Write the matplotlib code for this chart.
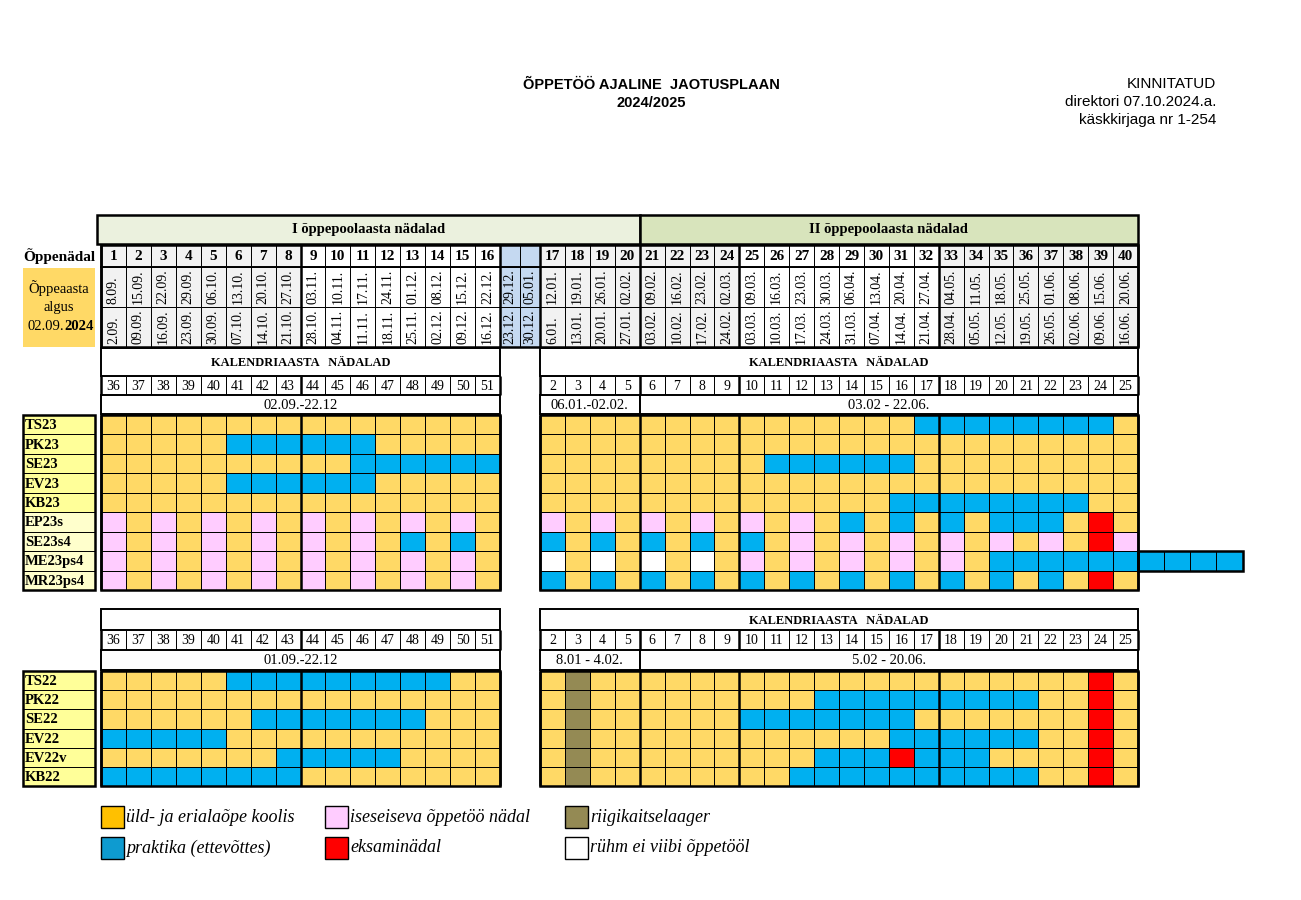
import numpy as np
import matplotlib
matplotlib.use('Agg')
import matplotlib.pyplot as plt
from matplotlib.patches import Rectangle
from matplotlib.colors import ListedColormap

SERIF = ['Liberation Serif', 'DejaVu Serif']
SANS = ['Liberation Sans', 'DejaVu Sans']
NARROW = ['Liberation Sans Narrow', 'Liberation Sans', 'DejaVu Sans']

# ---- data -----------------------------------------------------------
title_lines = ['ÕPPETÖÖ AJALINE  JAOTUSPLAAN', '2024/2025']
approval_lines = ['KINNITATUD', 'direktori 07.10.2024.a.', 'käskkirjaga nr 1-254']
semester_titles = ['I õppepoolaasta nädalad', 'II õppepoolaasta nädalad']

# 42 header columns: 16 study weeks, 2 holiday weeks, 24 study weeks
study_weeks = ['1', '2', '3', '4', '5', '6', '7', '8', '9', '10', '11', '12', '13', '14',
               '15', '16', '', '', '17', '18', '19', '20', '21', '22', '23', '24', '25',
               '26', '27', '28', '29', '30', '31', '32', '33', '34', '35', '36', '37',
               '38', '39', '40']
week_end = ['8.09.', '15.09.', '22.09.', '29.09.', '06.10.', '13.10.', '20.10.', '27.10.',
            '03.11.', '10.11.', '17.11.', '24.11.', '01.12.', '08.12.', '15.12.', '22.12.',
            '29.12.', '05.01.', '12.01.', '19.01.', '26.01.', '02.02.', '09.02.', '16.02.',
            '23.02.', '02.03.', '09.03.', '16.03.', '23.03.', '30.03.', '06.04.', '13.04.',
            '20.04.', '27.04.', '04.05.', '11.05.', '18.05.', '25.05.', '01.06.', '08.06.',
            '15.06.', '20.06.']
week_start = ['2.09.', '09.09.', '16.09.', '23.09.', '30.09.', '07.10.', '14.10.', '21.10.',
              '28.10.', '04.11.', '11.11.', '18.11.', '25.11.', '02.12.', '09.12.', '16.12.',
              '23.12.', '30.12.', '6.01.', '13.01.', '20.01.', '27.01.', '03.02.', '10.02.',
              '17.02.', '24.02.', '03.03.', '10.03.', '17.03.', '24.03.', '31.03.', '07.04.',
              '14.04.', '21.04.', '28.04.', '05.05.', '12.05.', '19.05.', '26.05.', '02.06.',
              '09.06.', '16.06.']
calendar_weeks = [36, 37, 38, 39, 40, 41, 42, 43, 44, 45, 46, 47, 48, 49, 50, 51,
                  2, 3, 4, 5,
                  6, 7, 8, 9, 10, 11, 12, 13, 14, 15, 16, 17, 18, 19, 20, 21, 22, 23, 24, 25]
ranges_2023 = ['02.09.-22.12', '06.01.-02.02.', '03.02 - 22.06.']
ranges_2022 = ['01.09.-22.12', '8.01 - 4.02.', '5.02 - 20.06.']

# o = üld/eriala koolis, b = praktika, p = iseseisev, g = riigikaitselaager,
# r = eksaminädal, w = ei viibi õppetööl   (weeks 1-16 | 17-20 | 21-40)
groups_2023 = ['TS23', 'PK23', 'SE23', 'EV23', 'KB23', 'EP23s', 'SE23s4', 'ME23ps4', 'MR23ps4']
plan_2023 = [
    'oooooooo oooooooo | oooo | oooo ooooooob bbbbbbbo',
    'ooooobbb bbbooooo | oooo | oooo oooooooo oooooooo',
    'oooooooo oobbbbbb | oooo | oooo obbbbbbo oooooooo',
    'ooooobbb bbbooooo | oooo | oooo oooooooo oooooooo',
    'oooooooo oooooooo | oooo | oooo oooooobb bbbbbboo',
    'popopopo popopopo | popo | popo popobobo bobbboro',
    'popopopo popobobo | bobo | bobo bopopopo popoporp',
    'popopopo popopopo | wowo | wowo popopopo pobbbbbb',
    'popopopo popopopo | bobo | bobo bobobobo boboboro',
]
extra_2023 = {'ME23ps4': 'bbbb'}

groups_2022 = ['TS22', 'PK22', 'SE22', 'EV22', 'EV22v', 'KB22']
plan_2022 = [
    'ooooobbb bbbbbboo | ogoo | oooo oooooooo ooooooro',
    'oooooooo oooooooo | ogoo | oooo ooobbbbb bbbbooro',
    'oooooobb bbbbbooo | ogoo | oooo bbbbbbbo ooooooro',
    'bbbbbooo oooooooo | ogoo | oooo oooooobb bbbbooro',
    'ooooooob bbbboooo | ogoo | oooo ooobbbrb bbooooro',
    'bbbbbbbb oooooooo | ogoo | oooo oobbbbbb bbbbooro',
]

legend_codes = ['o', 'p', 'g', 'b', 'r', 'w']
legend_labels = ['üld- ja erialaõpe koolis', 'iseseiseva õppetöö nädal', 'riigikaitselaager',
                 'praktika (ettevõttes)', 'eksaminädal', 'rühm ei viibi õppetööl']

# ---- styles ---------------------------------------------------------
codes = 'obpgrw'
cell_colors = {'o': '#FFD966', 'b': '#00B0F0', 'p': '#FFCCFF', 'g': '#948A54',
               'r': '#FF0000', 'w': '#FFFFFF'}
legend_colors = {'o': '#FFC000', 'b': '#0E9BD0', 'p': '#FFCCFF', 'g': '#948A54',
                 'r': '#FF0000', 'w': '#FFFFFF'}
cmap = ListedColormap([cell_colors[c] for c in codes])
THIN = 0.7
THICK = 1.8

fig = plt.figure(figsize=(13.01, 9.0), dpi=100)
ax = fig.add_axes([0, 0, 1, 1])
ax.set_xlim(0, 1301)
ax.set_ylim(900, 0)
ax.axis('off')

xe = np.concatenate([np.linspace(101, 500, 17), [520], np.linspace(540, 1138, 25)])
xc = (xe[:-1] + xe[1:]) / 2
col_idx = list(range(16)) + list(range(18, 42))
thick_cols = [0, 8, 16, 18, 22, 26, 34, 42]
blocks = [(xe[0], xe[16]), (xe[18], xe[42])]
range_blocks = [(xe[0], xe[16]), (xe[18], xe[22]), (xe[22], xe[42])]


def box(x0, x1, y0, y1, fc='none', lw=THIN, zorder=2):
    ax.add_patch(Rectangle((x0, y0), x1 - x0, y1 - y0, facecolor=fc,
                           edgecolor='black', linewidth=lw, zorder=zorder))


def thick_lines(y0, y1):
    for i in thick_cols:
        ax.plot([xe[i], xe[i]], [y0, y1], color='black', lw=THICK, zorder=5,
                solid_capstyle='butt')


def week_rows(y_kal, y_week, y_rng, y_end, ranges, kal_left):
    # calendar-week header block
    for k, (x0, x1) in enumerate(blocks):
        box(x0, x1, y_kal, y_week, fc='white', lw=1.4)
        if k == 1 or kal_left:
            ax.text((x0 + x1) / 2, (y_kal + y_week) / 2 + 1, 'KALENDRIAASTA   NÄDALAD',
                    ha='center', va='center', fontsize=9, fontweight='bold', family=SERIF)
    for k, wk in enumerate(calendar_weeks):
        i = col_idx[k]
        box(xe[i], xe[i + 1], y_week, y_rng, fc='white')
        ax.text(xc[i], (y_week + y_rng) / 2 + 1, str(wk), ha='center', va='center',
                fontsize=10, family=SERIF)
    thick_lines(y_week, y_rng)
    for (x0, x1), txt in zip(range_blocks, ranges):
        box(x0, x1, y_rng, y_end, fc='white', lw=1.4)
        ax.text((x0 + x1) / 2, (y_rng + y_end) / 2 + 1, txt, ha='center', va='center',
                fontsize=10.5, family=SERIF)


def plan_grid(groups, plan, y0, y1, label_fills, extra=None):
    rows = [row.replace(' ', '').replace('|', '') for row in plan]
    ye = np.linspace(y0, y1, len(rows) + 1)
    C = np.array([[codes.index(ch) for ch in row] for row in rows], dtype=float)
    # autumn block (weeks 1-16) and spring block (weeks 17-40), holidays left empty
    ax.pcolormesh(xe[0:17], ye, C[:, :16], cmap=cmap, vmin=-0.5, vmax=5.5,
                  edgecolors='black', linewidth=THIN, zorder=3)
    ax.pcolormesh(xe[18:43], ye, C[:, 16:], cmap=cmap, vmin=-0.5, vmax=5.5,
                  edgecolors='black', linewidth=THIN, zorder=3)
    thick_lines(y0, y1)
    for x0, x1 in blocks:
        box(x0, x1, y0, y1, lw=THICK, zorder=6)
    # row labels
    for r, name in enumerate(groups):
        box(23, 95, ye[r], ye[r + 1], fc=label_fills[r], lw=THIN)
        ax.text(25, (ye[r] + ye[r + 1]) / 2 + 1, name, ha='left', va='center',
                fontsize=10.5, fontweight='bold', family=SERIF)
    box(23, 95, y0, y1, lw=THICK, zorder=6)
    # cells that run past week 40
    if extra:
        w = xe[42] - xe[41]
        for name, cells in extra.items():
            r = groups.index(name)
            ex = xe[42] + w * np.arange(len(cells) + 1) * 1.05
            E = np.array([[codes.index(ch) for ch in cells]], dtype=float)
            ax.pcolormesh(ex, ye[r:r + 2], E, cmap=cmap, vmin=-0.5, vmax=5.5,
                          edgecolors='black', linewidth=THIN, zorder=3)
            box(ex[0], ex[-1], ye[r], ye[r + 1], lw=THICK, zorder=6)


# ---- title ------------------------------------------------------------
ax.text(651, 85, title_lines[0], ha='center', va='center', fontsize=10.5,
        fontweight='bold', family=SANS)
ax.text(651, 103, title_lines[1], ha='center', va='center', fontsize=10.5,
        fontweight='bold', family=SANS)
for k, line in enumerate(approval_lines):
    ax.text(1216, 84 + 18 * k, line, ha='right', va='center', fontsize=11, family=NARROW)

# ---- semester band ------------------------------------------------------
band = [(97, xe[22], '#EBF1DE'), (xe[22], xe[42], '#D8E4BC')]
for (x0, x1, fc), txt in zip(band, semester_titles):
    box(x0, x1, 215, 244, fc=fc, lw=THICK)
    ax.text((x0 + x1) / 2, 230, txt, ha='center', va='center', fontsize=10.5,
            fontweight='bold', family=SERIF)

# ---- study week / date header --------------------------------------------
shade = (['#F2F2F2'] * 8 + ['white'] * 8 + ['#C5D9F1'] * 2 + ['#F2F2F2'] * 8
         + ['white'] * 8 + ['#F2F2F2'] * 8)
hy = [245, 267, 307, 347]
for i in range(42):
    box(xe[i], xe[i + 1], hy[0], hy[1], fc=shade[i])
    box(xe[i], xe[i + 1], hy[1], hy[2], fc=shade[i])
    box(xe[i], xe[i + 1], hy[2], hy[3], fc=shade[i])
    ax.text(xc[i], (hy[0] + hy[1]) / 2 + 1, study_weeks[i], ha='center', va='center',
            fontsize=11, fontweight='bold', family=SERIF, zorder=4)
    ax.text(xc[i], hy[2] - 3, week_end[i], rotation=90, ha='center', va='bottom',
            fontsize=10, family=SERIF, zorder=4)
    ax.text(xc[i], hy[3] - 3, week_start[i], rotation=90, ha='center', va='bottom',
            fontsize=10, family=SERIF, zorder=4)
thick_lines(hy[0], hy[3])
box(xe[0], xe[42], hy[0], hy[3], lw=THICK, zorder=6)
ax.plot([xe[0], xe[42]], [hy[1], hy[1]], color='black', lw=1.4, zorder=5)

ax.text(59, 256, 'Õppenädal', ha='center', va='center', fontsize=11,
        fontweight='bold', family=SERIF)
ax.add_patch(Rectangle((23, 268), 72, 79, facecolor='#FFD966', edgecolor='none'))
ax.text(59, 288, 'Õppeaasta', ha='center', va='center', fontsize=10.5, family=SERIF)
ax.text(59, 307, 'algus', ha='center', va='center', fontsize=10.5, family=SERIF)
ax.text(64, 326, '02.09.', ha='right', va='center', fontsize=10.5, family=SERIF)
ax.text(64, 326, '2024', ha='left', va='center', fontsize=10.5, fontweight='bold',
        family=SERIF)

# ---- 2023 groups -----------------------------------------------------------
week_rows(348, 376, 395, 414, ranges_2023, kal_left=True)
fills_2023 = ['#FFFF99'] * 5 + ['#FFFFCC'] * 4
plan_grid(groups_2023, plan_2023, 415, 590, fills_2023, extra=extra_2023)

# ---- 2022 groups -----------------------------------------------------------
week_rows(609, 630, 650, 670, ranges_2022, kal_left=False)
plan_grid(groups_2022, plan_2022, 671, 786, ['#FFFF99'] * 6)

# ---- legend ---------------------------------------------------------------
leg_x = [101, 325, 565]
leg_y = [806, 837]
for k, (code, label) in enumerate(zip(legend_codes, legend_labels)):
    x = leg_x[k % 3]
    y = leg_y[k // 3]
    ax.add_patch(Rectangle((x, y), 23, 22, facecolor=legend_colors[code],
                           edgecolor='black', linewidth=1.0))
    ax.text(x + 25, y + 11, label, ha='left', va='center', fontsize=13,
            style='italic', family=SERIF)

fig.savefig('out.png', dpi=100)
